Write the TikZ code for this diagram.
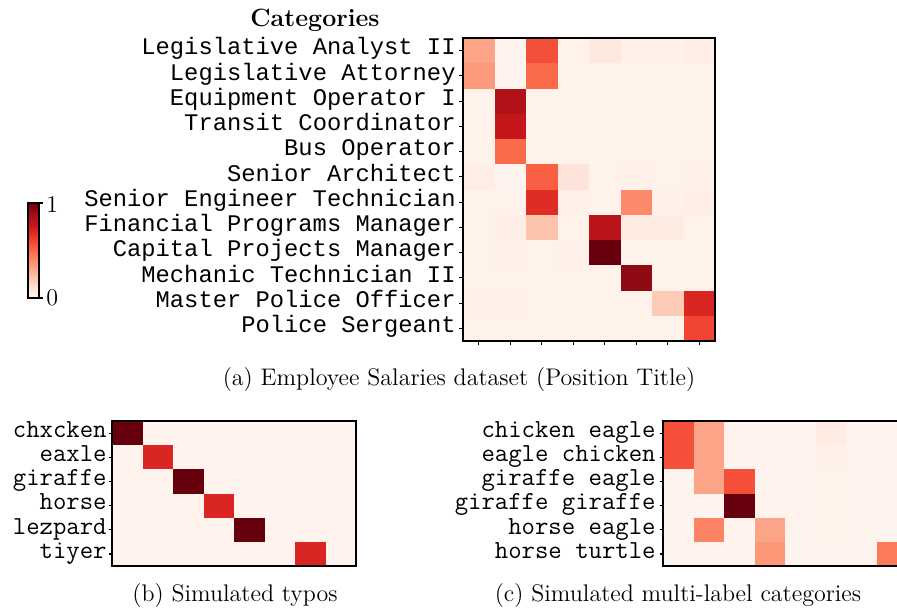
\documentclass[tikz,border=0pt]{standalone}
\usepackage{fontspec}
\newfontfamily\courmono{Liberation Mono}
\usepackage{tikz}
% Reds colour map
\definecolor{reds0}{HTML}{FFF5F0}
\definecolor{reds1}{HTML}{FEE0D2}
\definecolor{reds2}{HTML}{FCBBA1}
\definecolor{reds3}{HTML}{FC9272}
\definecolor{reds4}{HTML}{FB6A4A}
\definecolor{reds5}{HTML}{EF3B2C}
\definecolor{reds6}{HTML}{CB181D}
\definecolor{reds7}{HTML}{A50F15}
\definecolor{reds8}{HTML}{67000D}
\newcommand\heatcolor[2]{%
  \pgfmathsetmacro\hv{min(max(#2,0),1)*8}%
  \pgfmathtruncatemacro\hidx{min(floor(\hv),7)}%
  \pgfmathtruncatemacro\hpct{round((\hv-\hidx)*100)}%
  \pgfmathtruncatemacro\hnext{\hidx+1}%
  \colorlet{#1}{reds\hnext!\hpct!reds\hidx}}
\tikzset{
  box/.style={draw=black, line width=0.6pt},
  tickln/.style={draw=black, line width=0.6pt},
  ylaba/.style={font=\courmono\fontsize{11.9}{13}\selectfont, inner sep=0pt, anchor=mid east},
  ylabb/.style={font=\ttfamily\fontsize{13}{15}\selectfont, inner sep=0pt, anchor=mid east},
  capt/.style={font=\fontsize{12}{14}\selectfont, inner sep=0pt, anchor=base},
  cbar/.style={font=\fontsize{12}{14}\selectfont, inner sep=0pt, anchor=west},
}

\begin{document}
\begin{tikzpicture}[x=0.5pt,y=-0.5pt]
  \clip (0,0) rectangle (897,612);

  % (a) Employee Salaries
  \node[font=\bfseries\fontsize{12.5}{14}\selectfont, inner sep=0pt, anchor=base] (cattitle) at (315,26) {Categories};
  \foreach \row [count=\i] in {
      {0.32,0.01,0.57,0.02,0.07,0.03,0.03,0.04},
      {0.35,0.01,0.50,0.02,0.02,0.02,0.02,0.02},
      {0.02,0.84,0.02,0.02,0.02,0.02,0.02,0.02},
      {0.02,0.77,0.02,0.02,0.02,0.02,0.02,0.02},
      {0.02,0.50,0.02,0.02,0.02,0.02,0.02,0.02},
      {0.05,0.01,0.53,0.10,0.02,0.03,0.02,0.03},
      {0.02,0.02,0.68,0.03,0.02,0.40,0.03,0.04},
      {0.02,0.04,0.22,0.02,0.81,0.06,0.06,0.02},
      {0.02,0.03,0.02,0.03,1.00,0.02,0.02,0.02},
      {0.02,0.02,0.02,0.02,0.02,0.92,0.02,0.02},
      {0.03,0.03,0.02,0.02,0.02,0.02,0.20,0.70},
      {0.02,0.02,0.02,0.02,0.02,0.02,0.02,0.60}} {
    \foreach \v [count=\j] in \row {
      \heatcolor{cellc}{\v}
      \fill[cellc] ({463+31.5*(\j-1)},{38+25.25*(\i-1)}) rectangle +(31.8,25.5);
    }
  }
  \draw[box] (463,38) rectangle (715,341);
  \foreach \lab [count=\i] in {Legislative Analyst II, Legislative Attorney,
      Equipment Operator I, Transit Coordinator, Bus Operator, Senior Architect,
      Senior Engineer Technician, Financial Programs Manager,
      Capital Projects Manager, Mechanic Technician II,
      Master Police Officer, Police Sergeant} {
    \node[ylaba] (posa\i) at (456,{38+25.25*(\i-0.5)}) {\lab};
    \draw[tickln] (459,{38+25.25*(\i-0.5)}) -- (463,{38+25.25*(\i-0.5)});
  }
  \foreach \j in {1,...,8}
    \draw[tickln] ({463+31.5*(\j-0.5)},341) -- ++(0,4);

  % colour bar
  \foreach \k in {0,...,47} {
    \pgfmathsetmacro\cv{(\k+0.5)/48}
    \heatcolor{cellc}{\cv}
    \fill[cellc] (28,{298-95*(\k+1)/48}) rectangle (39,{298-95*\k/48+0.4});
  }
  \draw[box] (28,203) rectangle (39,298);
  \draw[tickln] (39,203) -- (43,203);
  \draw[tickln] (39,298) -- (43,298);
  \node[cbar] (cbtop) at (46,205) {1};
  \node[cbar] (cbbot) at (46,298) {0};

  \node[capt] (capa) at (459,385) {(a) Employee Salaries dataset (Position Title)};

  % (b) Simulated typos
  \foreach \row [count=\i] in {
      {1.00,0.01,0.01,0.01,0.01,0.01,0.01,0.01},
      {0.01,0.70,0.01,0.01,0.01,0.01,0.01,0.01},
      {0.01,0.01,1.00,0.01,0.01,0.01,0.01,0.01},
      {0.01,0.01,0.01,0.70,0.01,0.01,0.01,0.01},
      {0.01,0.01,0.01,0.01,1.00,0.01,0.01,0.01},
      {0.01,0.01,0.01,0.01,0.01,0.01,0.70,0.01}} {
    \foreach \v [count=\j] in \row {
      \heatcolor{cellc}{\v}
      \fill[cellc] ({112+30.5*(\j-1)},{421+24.17*(\i-1)}) rectangle +(30.8,24.4);
    }
  }
  \draw[box] (112,421) rectangle (356,566);
  \foreach \lab [count=\i] in {chxcken, eaxle, giraffe, horse, lezpard, tiyer} {
    \node[ylabb] (posb\i) at (107,{421+24.17*(\i-0.5)}) {\lab};
    \draw[tickln] (108.5,{421+24.17*(\i-0.5)}) -- (112,{421+24.17*(\i-0.5)});
  }
  \node[capt] (capb) at (235,601) {(b) Simulated typos};

  % (c) Simulated multi-label categories
  \foreach \row [count=\i] in {
      {0.57,0.32,0.01,0.01,0.01,0.06,0.01,0.01},
      {0.57,0.32,0.01,0.01,0.01,0.03,0.01,0.01},
      {0.01,0.32,0.57,0.01,0.01,0.02,0.01,0.01},
      {0.01,0.01,1.00,0.01,0.01,0.02,0.01,0.01},
      {0.01,0.42,0.01,0.32,0.01,0.02,0.01,0.01},
      {0.01,0.01,0.01,0.36,0.01,0.01,0.01,0.45}} {
    \foreach \v [count=\j] in \row {
      \heatcolor{cellc}{\v}
      \fill[cellc] ({663+30.5*(\j-1)},{421+24.17*(\i-1)}) rectangle +(30.8,24.4);
    }
  }
  \draw[box] (663,421) rectangle (907,566);
  \foreach \lab [count=\i] in {chicken eagle, eagle chicken, giraffe eagle,
      giraffe giraffe, horse eagle, horse turtle} {
    \node[ylabb] (posc\i) at (656,{421+24.17*(\i-0.5)}) {\lab};
    \draw[tickln] (659.5,{421+24.17*(\i-0.5)}) -- (663,{421+24.17*(\i-0.5)});
  }
  \node[capt] (capc) at (678,601) {(c) Simulated multi-label categories};
\end{tikzpicture}
\end{document}
